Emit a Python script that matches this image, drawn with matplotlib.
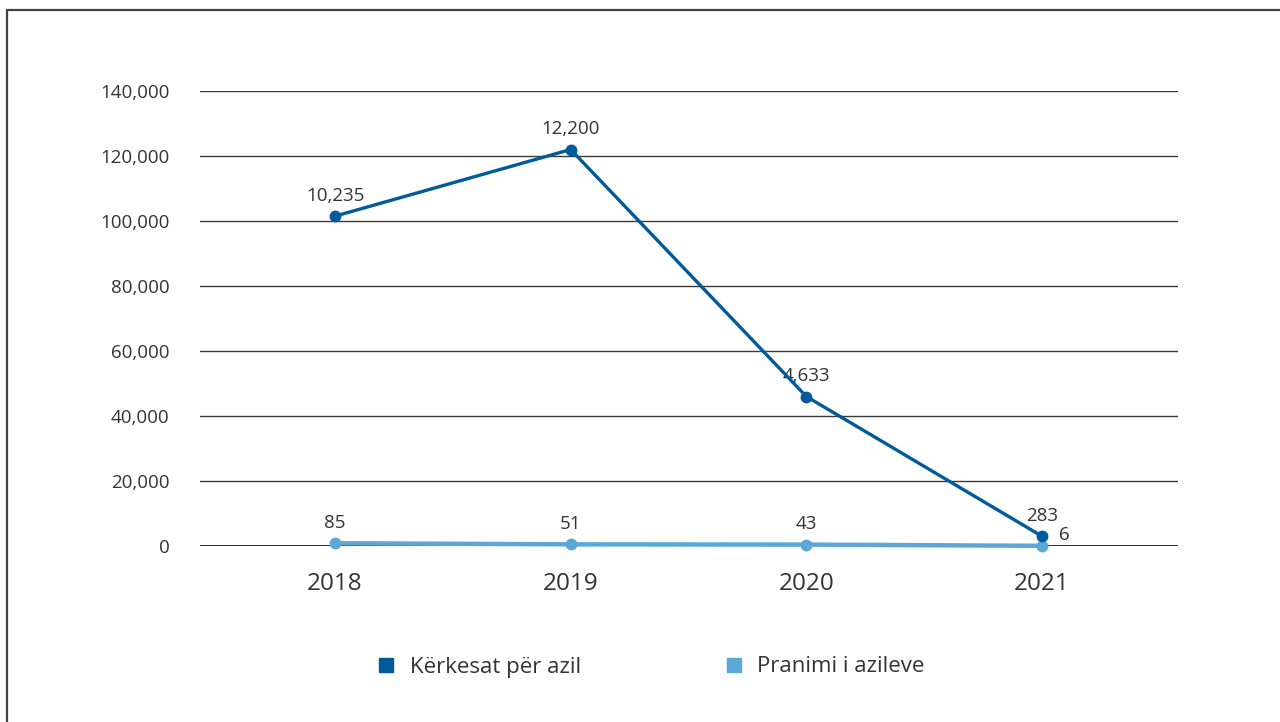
import matplotlib
matplotlib.use("Agg")
import matplotlib.pyplot as plt
from matplotlib.lines import Line2D
from matplotlib.patches import Rectangle
from matplotlib.ticker import FuncFormatter

years = ["2018", "2019", "2020", "2021"]
requests_plot = [101500, 122000, 46000, 3000]
requests_labels = ["10,235", "12,200", "4,633", "283"]
accepted_plot = [850, 510, 430, 60]
accepted_labels = ["85", "51", "43", "6"]
series_names = ["Kërkesat për azil", "Pranimi i azileve"]
yticks = [0, 20000, 40000, 60000, 80000, 100000, 120000, 140000]

DARK = "#005a9c"
LIGHT = "#5ba8d8"
TXT = "#333333"

plt.rcParams['font.family'] = ['Open Sans', 'DejaVu Sans']

fig = plt.figure(figsize=(12.8, 7.22), dpi=100)
fig.patch.set_facecolor("white")

# outer frame (top and left edges visible)
fig.add_artist(Rectangle((7/1280, -0.05), 1.1, 1 - 10/722 + 0.05,
                         transform=fig.transFigure, fill=False,
                         edgecolor="#444444", linewidth=1.6))

ax = fig.add_axes([200/1280, 1 - 546/722, 978/1280, (546 - 91)/722])
x = list(range(len(years)))

ax.set_ylim(0, 140000)
ax.set_xlim(-0.573, 3.577)
ax.set_yticks(yticks)
ax.yaxis.set_major_formatter(FuncFormatter(lambda v, p: f"{int(v):,}"))
ax.set_xticks(x)
ax.set_xticklabels(years)
ax.tick_params(axis="y", length=0, pad=22, labelsize=13.5, labelcolor=TXT)
ax.tick_params(axis="x", length=0, pad=19, labelsize=17.5, labelcolor=TXT)
for s in ax.spines.values():
    s.set_visible(False)
ax.grid(axis="y", color="#3a3a3a", linewidth=1.0)
ax.set_axisbelow(True)
ax.axhline(0, color="#222222", linewidth=1.3, zorder=1)

ax.plot(x, accepted_plot, color=LIGHT, linewidth=3.2, marker="o",
        markersize=7.5, zorder=3, clip_on=False)
ax.plot(x, requests_plot, color=DARK, linewidth=2.4, marker="o",
        markersize=7.5, zorder=4, clip_on=False)

for i, (v, t) in enumerate(zip(requests_plot, requests_labels)):
    ax.annotate(t, (i, v), xytext=(0, 8), textcoords="offset points",
                ha="center", va="bottom", fontsize=13.5, color=TXT)
for i, (v, t) in enumerate(zip(accepted_plot, accepted_labels)):
    if i == len(accepted_plot) - 1:
        ax.annotate(t, (i, v), xytext=(16, 1), textcoords="offset points",
                    ha="center", va="bottom", fontsize=13.5, color=TXT)
    else:
        ax.annotate(t, (i, v), xytext=(0, 8), textcoords="offset points",
                    ha="center", va="bottom", fontsize=13.5, color=TXT)

handles = [Line2D([], [], linestyle="none", marker="s", markersize=10,
                  color=c) for c in (DARK, LIGHT)]
fig.legend(handles, series_names, loc="center",
           bbox_to_anchor=(650/1280, 1 - 667/722), ncol=2, frameon=False,
           fontsize=16, handletextpad=0.55, columnspacing=6.4,
           handlelength=1.0, labelcolor=TXT)

fig.savefig("out.png", dpi=100, facecolor="white")
